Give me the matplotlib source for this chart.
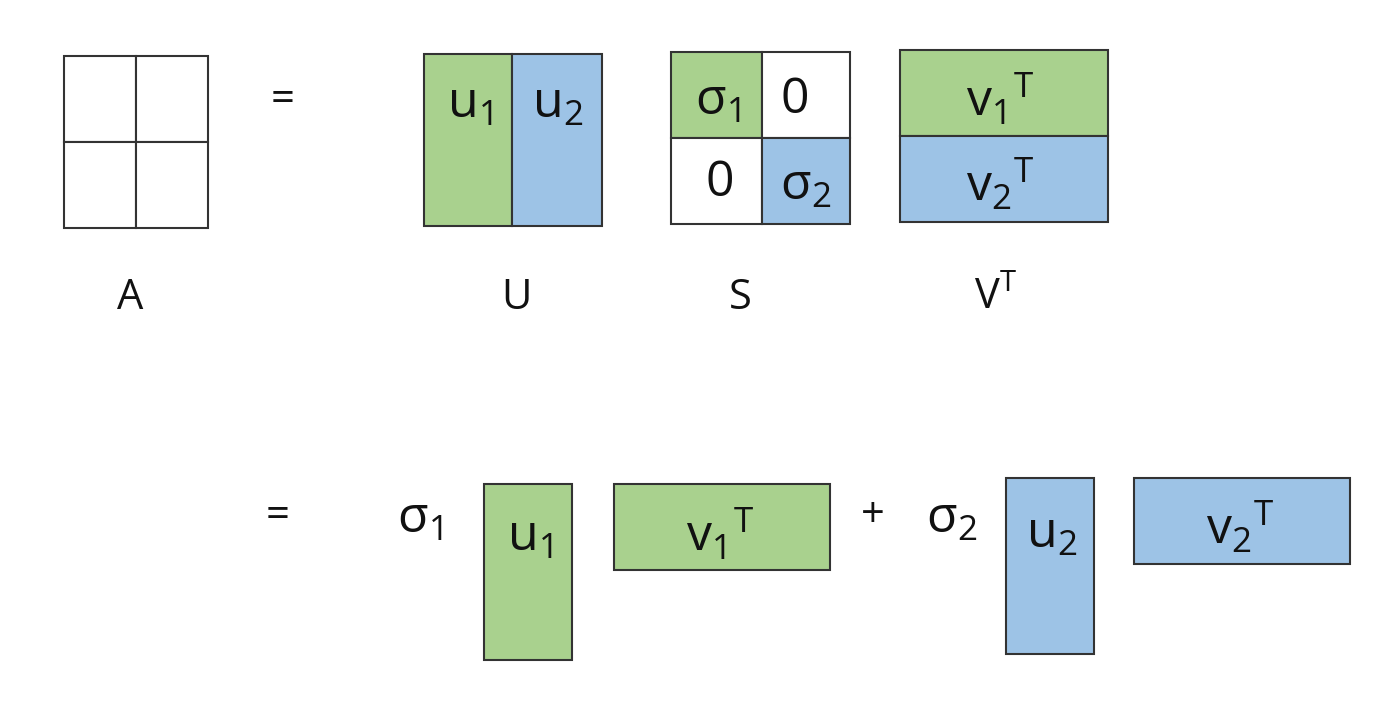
import matplotlib
matplotlib.use("Agg")
import matplotlib.pyplot as plt
from matplotlib.patches import Rectangle

plt.rcParams['font.family'] = ['Open Sans', 'DejaVu Sans']
plt.rcParams['mathtext.fontset'] = 'custom'
plt.rcParams['mathtext.rm'] = 'Open Sans'
plt.rcParams['mathtext.it'] = 'Open Sans'

GREEN = '#a9d18e'
BLUE = '#9dc3e6'
WHITE = 'white'

# boxes: (x0, y0, x1, y1, color)
boxes = [
    (64, 56, 136, 142, WHITE), (136, 56, 208, 142, WHITE),
    (64, 142, 136, 228, WHITE), (136, 142, 208, 228, WHITE),
    (424, 54, 512, 226, GREEN), (512, 54, 602, 226, BLUE),
    (671, 52, 762, 138, GREEN), (762, 52, 850, 138, WHITE),
    (671, 138, 762, 224, WHITE), (762, 138, 850, 224, BLUE),
    (900, 50, 1108, 136, GREEN), (900, 136, 1108, 222, BLUE),
    (484, 484, 572, 660, GREEN), (614, 484, 830, 570, GREEN),
    (1006, 478, 1094, 654, BLUE), (1134, 478, 1350, 564, BLUE),
]
# texts: (x, y, string, size)
texts = [
    (283, 100, '=', 30), (470, 105, r'$\mathrm{u}_1$', 36), (558, 105, r'$\mathrm{u}_2$', 36),
    (718, 102, r'$\mathrm{\sigma}_1$', 36), (795, 100, '0', 36),
    (720, 183, '0', 36), (806, 187, r'$\mathrm{\sigma}_2$', 36),
    (1000, 100, r'$\mathrm{v}_1{}^\mathrm{T}$', 36), (1000, 185, r'$\mathrm{v}_2{}^\mathrm{T}$', 36),
    (130, 298, 'A', 30), (516, 298, 'U', 30), (740, 298, 'S', 30), (995, 298, r'$\mathrm{V}^\mathrm{T}$', 30),
    (278, 516, '=', 30), (420, 520, r'$\mathrm{\sigma}_1$', 36),
    (530, 538, r'$\mathrm{u}_1$', 36), (720, 535, r'$\mathrm{v}_1{}^\mathrm{T}$', 36),
    (873, 516, '+', 30), (952, 520, r'$\mathrm{\sigma}_2$', 36),
    (1052, 535, r'$\mathrm{u}_2$', 36), (1240, 528, r'$\mathrm{v}_2{}^\mathrm{T}$', 36),
]

fig = plt.figure(figsize=(14, 7.14), dpi=100)
ax = fig.add_axes([0, 0, 1, 1])
ax.set_xlim(0, 1400)
ax.set_ylim(714, 0)
ax.axis('off')
for x0, y0, x1, y1, c in boxes:
    ax.add_patch(Rectangle((x0, y0), x1 - x0, y1 - y0, facecolor=c, edgecolor='#333333', lw=1.5))
for x, y, s, fs in texts:
    ax.text(x, y, s, fontsize=fs, ha='center', va='center', color='#111111')
fig.savefig('out.png', dpi=100, facecolor='white')
